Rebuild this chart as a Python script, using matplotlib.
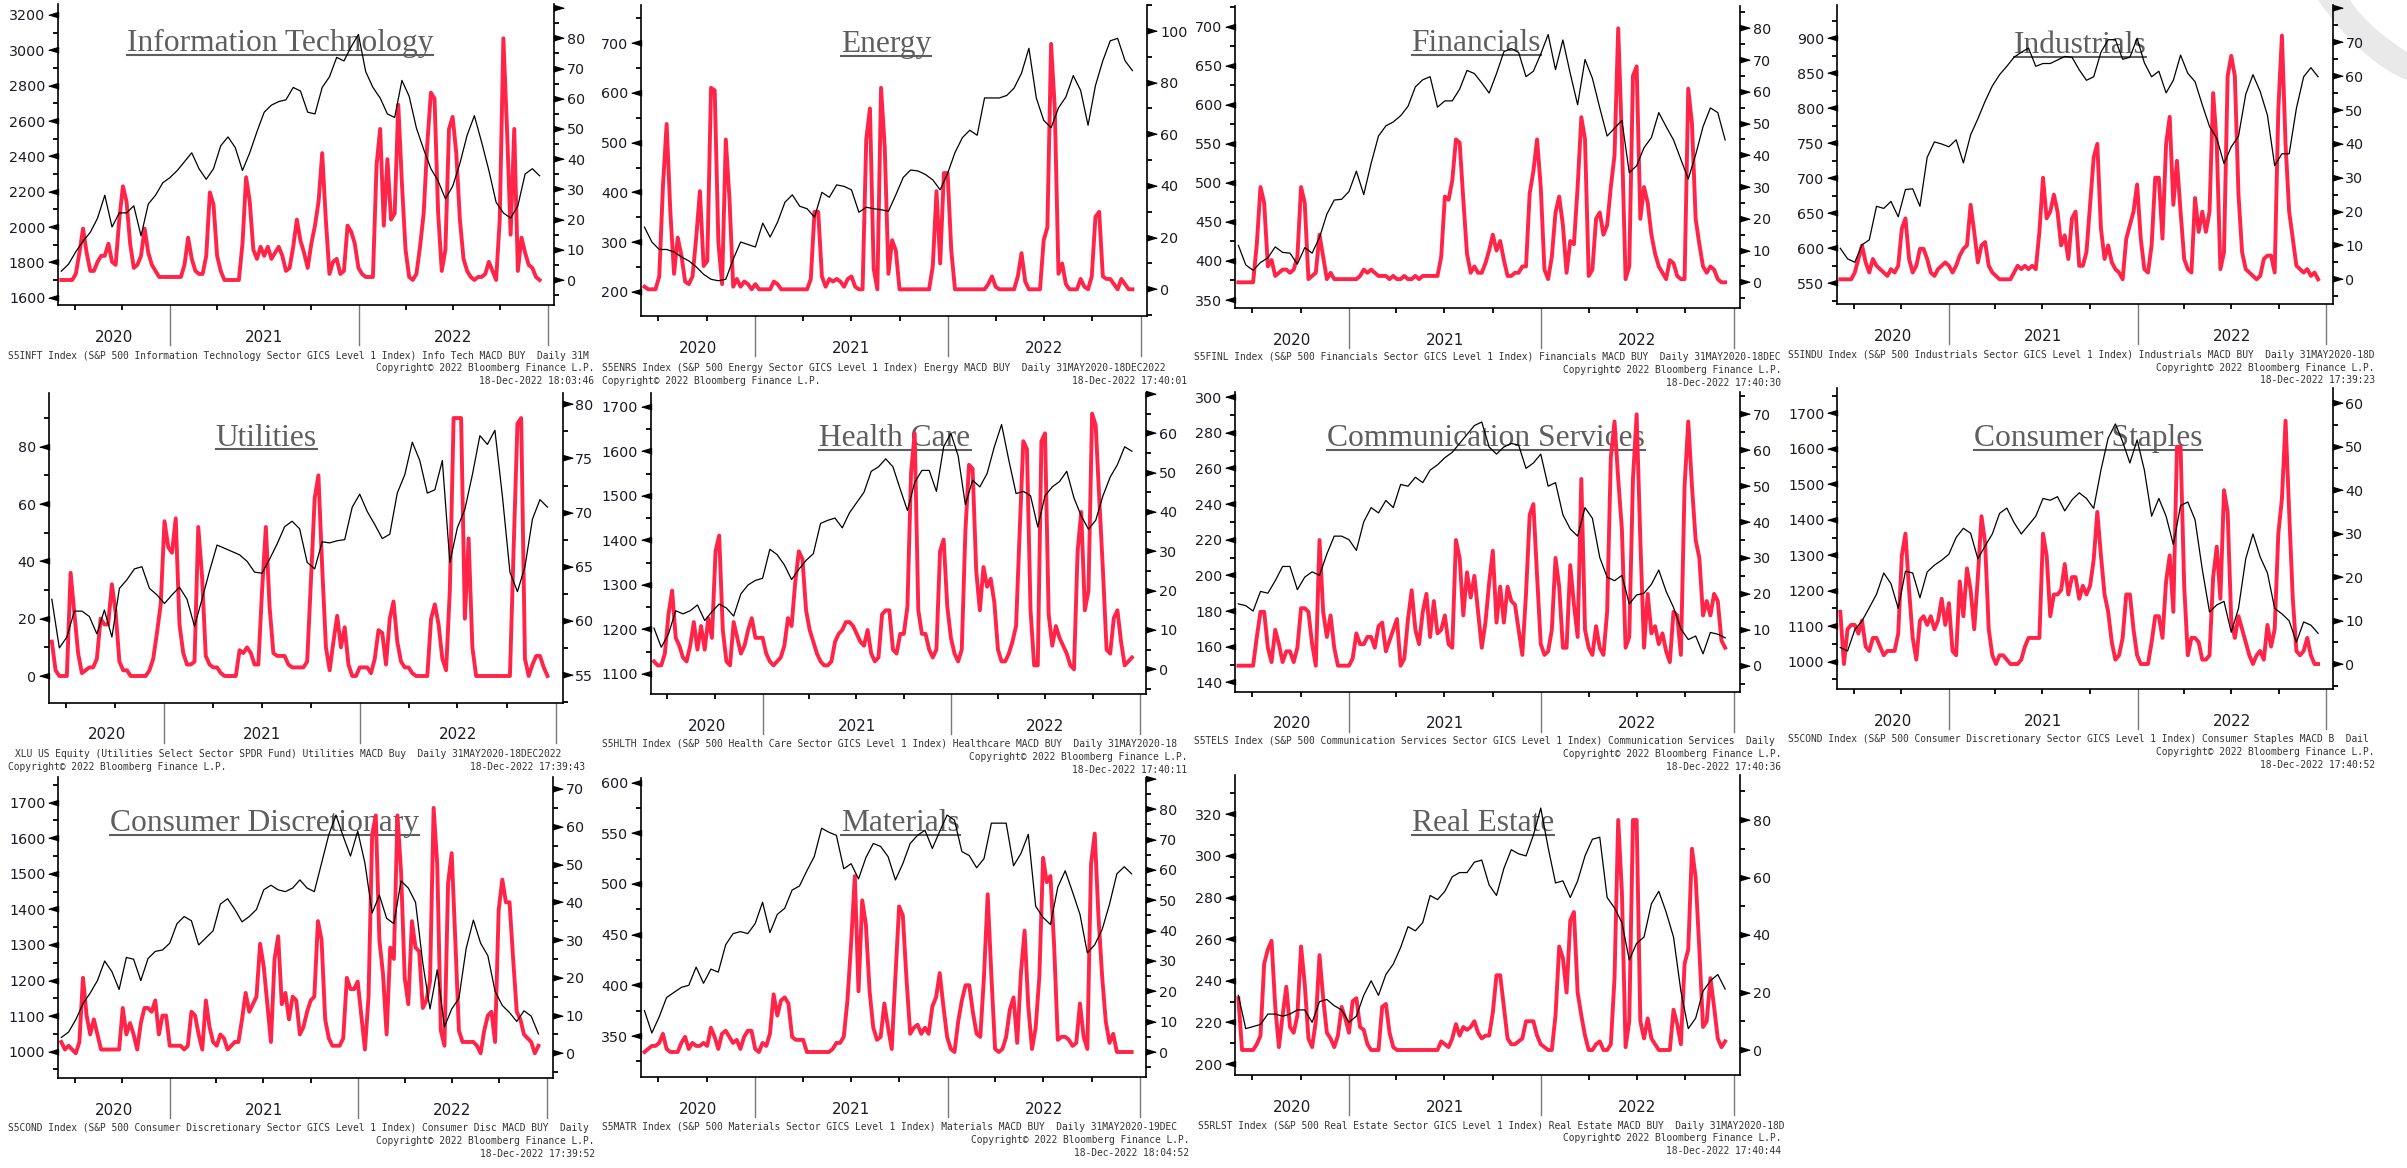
#!/usr/bin/env python3
# sector_macd_grid.py - S&P 500 sector panels: index level (black) vs MACD buy share (red)

import matplotlib
matplotlib.use("Agg")
import matplotlib.pyplot as plt
import matplotlib.dates as mdates
from matplotlib.lines import Line2D
from matplotlib.patches import PathPatch
from matplotlib.path import Path
from matplotlib.ticker import MultipleLocator, FuncFormatter
import numpy as np
import pandas as pd

W, H, DPI = 2407, 1168, 100
RED = "#ff2448"
INK = "#1b1b24"
NOTE_FONT = dict(family="DejaVu Sans Mono", fontsize=6.93, color="#333333")
FIRST, LAST = "2020-06-05", "2022-12-16"   # price: every 2 weeks, macd: weekly

# --- index levels (biweekly) and MACD buy readings (weekly) ---
it_price = [1750, 1790, 1860, 1920, 1970, 2050, 2180, 2000, 2080, 2080, 2120, 1950, 2130, 2180, 2250,
            2280, 2320, 2370, 2420, 2330, 2270, 2330, 2460, 2510, 2450, 2320, 2420, 2540, 2650, 2690,
            2710, 2720, 2790, 2770, 2650, 2640, 2790, 2850, 2960, 2940, 3020, 3090, 2880, 2790, 2730,
            2640, 2620, 2830, 2740, 2560, 2440, 2330, 2260, 2160, 2230, 2360, 2520, 2630, 2480, 2320,
            2140, 2080, 2050, 2120, 2300, 2330, 2290]
it_macd = [0, 0, 0, 0, 2, 9, 17, 9, 3, 3, 6, 8, 8, 12, 6, 5, 20, 31, 26, 12,
           4, 5, 8, 17, 9, 5, 3, 1, 1, 1, 1, 1, 1, 1, 5, 14, 7, 3, 2, 2,
           8, 29, 25, 8, 3, 0, 0, 0, 0, 0, 12, 34, 26, 10, 7, 11, 8, 11, 7, 9,
           11, 8, 3, 4, 11, 20, 13, 9, 4, 12, 18, 26, 42, 20, 2, 6, 7, 2, 3, 18,
           16, 12, 4, 2, 1, 1, 1, 38, 50, 18, 40, 20, 22, 58, 32, 10, 1, 0, 2, 11,
           22, 45, 62, 60, 22, 3, 10, 50, 54, 42, 20, 7, 3, 1, 0, 1, 1, 2, 6, 3,
           0, 20, 80, 50, 15, 50, 3, 14, 9, 5, 4, 1, 0]

energy_price = [330, 300, 285, 285, 280, 270, 262, 250, 235, 225, 222, 225, 265, 300, 295,
                290, 338, 310, 340, 380, 395, 372, 367, 350, 400, 390, 415, 412, 405, 360,
                370, 367, 365, 362, 395, 430, 445, 443, 436, 425, 405, 438, 480, 510, 525,
                515, 590, 590, 590, 595, 610, 640, 690, 590, 545, 530, 570, 592, 635, 605,
                535, 615, 665, 705, 710, 665, 645]
energy_macd = [1, 0, 0, 0, 5, 40, 64, 30, 6, 20, 13, 3, 2, 5, 20, 38, 9, 11, 78, 77,
               18, 2, 58, 35, 1, 4, 1, 3, 2, 0, 2, 0, 0, 0, 0, 3, 2, 0, 0, 0,
               0, 0, 0, 0, 0, 4, 30, 30, 5, 1, 4, 3, 4, 3, 1, 4, 5, 1, 0, 0,
               58, 70, 8, 0, 78, 55, 6, 19, 15, 0, 0, 0, 0, 0, 0, 0, 0, 0, 9, 38,
               10, 45, 45, 15, 0, 0, 0, 0, 0, 0, 0, 0, 0, 2, 5, 1, 0, 0, 0, 0,
               0, 5, 14, 3, 0, 0, 0, 0, 19, 24, 95, 70, 6, 10, 2, 0, 0, 0, 4, 1,
               0, 5, 28, 30, 5, 4, 4, 2, 0, 4, 2, 0, 0]

fin_price = [420, 395, 388, 398, 404, 418, 411, 410, 396, 417, 410, 430, 460, 478, 479,
             489, 515, 485, 525, 560, 573, 578, 586, 598, 623, 632, 636, 597, 605, 605,
             620, 644, 640, 628, 615, 640, 668, 672, 667, 636, 643, 665, 690, 645, 683,
             640, 600, 658, 634, 596, 560, 570, 580, 513, 522, 545, 558, 590, 572, 555,
             530, 505, 536, 572, 596, 590, 555]
fin_macd = [0, 0, 0, 0, 0, 12, 30, 25, 5, 7, 2, 3, 4, 4, 3, 4, 8, 30, 25, 1,
            2, 3, 15, 8, 1, 3, 1, 1, 1, 1, 1, 1, 1, 2, 4, 3, 4, 3, 2, 2,
            2, 1, 2, 1, 1, 2, 1, 1, 2, 1, 2, 2, 2, 2, 2, 8, 27, 26, 32, 45,
            44, 26, 9, 3, 5, 3, 3, 6, 10, 15, 10, 13, 7, 2, 2, 3, 3, 5, 5, 28,
            35, 45, 30, 4, 1, 8, 22, 27, 18, 3, 13, 12, 30, 52, 45, 2, 4, 20, 22, 15,
            18, 30, 40, 80, 45, 1, 5, 65, 68, 20, 30, 25, 15, 9, 5, 3, 1, 7, 6, 2,
            1, 1, 61, 50, 20, 12, 5, 3, 5, 4, 1, 0, 0]

ind_price = [600, 585, 580, 605, 612, 660, 657, 667, 645, 684, 685, 660, 730, 752, 749,
             745, 755, 722, 762, 785, 810, 832, 848, 860, 873, 880, 886, 860, 864, 864,
             869, 874, 873, 855, 840, 845, 880, 898, 898, 870, 873, 900, 865, 845, 853,
             822, 840, 876, 850, 838, 805, 774, 757, 721, 745, 760, 820, 848, 824, 790,
             718, 735, 735, 800, 845, 858, 845]
ind_macd = [0, 0, 0, 0, 2, 6, 10, 5, 2, 6, 4, 3, 2, 1, 3, 2, 4, 15, 18, 6,
            2, 4, 9, 9, 6, 2, 1, 3, 4, 5, 4, 2, 4, 7, 9, 10, 22, 14, 5, 10,
            11, 4, 2, 1, 0, 0, 0, 0, 2, 4, 3, 4, 3, 4, 3, 14, 30, 18, 20, 25,
            20, 10, 13, 6, 18, 20, 4, 4, 8, 22, 36, 40, 15, 6, 10, 5, 3, 2, 0, 12,
            16, 20, 28, 12, 3, 2, 10, 30, 30, 12, 40, 48, 22, 35, 20, 6, 3, 2, 24, 14,
            20, 14, 20, 55, 40, 3, 8, 60, 66, 60, 25, 8, 3, 2, 1, 0, 1, 6, 7, 7,
            2, 50, 72, 40, 20, 12, 4, 3, 2, 3, 1, 2, 0]

util_price = [62, 57.5, 58.5, 60.9, 60.9, 60.4, 58.8, 61, 58.5, 63, 63.8, 64.8, 65, 63, 62.4,
              61.6, 62.4, 63.1, 62, 59.5, 62, 64.6, 67, 66.7, 66.4, 66.1, 65.5, 64.5, 64.4, 65.7,
              67.1, 68.7, 69.2, 68.5, 65.4, 64.8, 67.3, 67.2, 67.4, 67.5, 70.5, 71.7, 70.1, 68.9, 67.6,
              68, 71.8, 73.5, 76.5, 74.8, 71.8, 72.1, 74.8, 65.4, 68.6, 70.3, 73.5, 77.1, 76.3, 77.6,
              71.5, 64.5, 62.7, 65, 69.4, 71.2, 70.5]
util_macd = [12, 2, 0, 0, 0, 36, 22, 8, 1, 2, 3, 3, 6, 20, 18, 18, 32, 22, 5, 2,
             2, 0, 0, 0, 0, 0, 2, 6, 15, 25, 54, 45, 43, 55, 18, 8, 4, 4, 5, 52,
             35, 7, 4, 3, 3, 1, 0, 0, 0, 0, 9, 8, 10, 8, 4, 4, 30, 52, 24, 8,
             7, 7, 7, 4, 3, 3, 3, 3, 5, 33, 62, 70, 38, 10, 2, 12, 21, 10, 17, 4,
             0, 0, 3, 3, 3, 1, 6, 16, 15, 4, 20, 26, 12, 5, 3, 3, 1, 0, 0, 0,
             0, 20, 25, 18, 6, 2, 30, 90, 90, 90, 20, 48, 10, 0, 0, 0, 0, 0, 0, 0,
             0, 0, 0, 45, 88, 90, 6, 0, 4, 7, 7, 3, 0]

hc_price = [1203, 1160, 1190, 1242, 1235, 1242, 1255, 1220, 1240, 1257, 1248, 1230, 1280, 1300, 1310,
            1315, 1380, 1368, 1345, 1312, 1335, 1355, 1370, 1438, 1445, 1450, 1428, 1462, 1485, 1508,
            1555, 1565, 1583, 1565, 1515, 1467, 1530, 1557, 1557, 1510, 1610, 1640, 1590, 1480, 1535,
            1520, 1550, 1610, 1660, 1580, 1505, 1510, 1500, 1430, 1500, 1520, 1532, 1555, 1495, 1455,
            1425, 1445, 1500, 1542, 1570, 1610, 1600]
hc_macd = [2, 1, 1, 4, 14, 20, 8, 6, 3, 2, 6, 12, 5, 11, 5, 13, 8, 30, 34, 10,
           2, 1, 12, 8, 4, 6, 10, 13, 8, 8, 8, 4, 2, 1, 2, 3, 6, 13, 11, 22,
           30, 28, 15, 10, 7, 4, 2, 1, 1, 2, 7, 9, 10, 12, 12, 11, 9, 7, 6, 10,
           4, 2, 3, 14, 15, 15, 5, 4, 9, 9, 16, 50, 60, 15, 9, 9, 5, 3, 5, 30,
           33, 16, 8, 4, 2, 5, 35, 52, 51, 25, 15, 26, 21, 23, 17, 5, 2, 2, 4, 7,
           11, 35, 58, 56, 15, 1, 1, 58, 60, 14, 6, 11, 8, 6, 4, 1, 0, 30, 40, 15,
           20, 65, 62, 43, 25, 5, 4, 13, 15, 7, 1, 2, 3]

comm_price = [184, 183, 180, 191, 190, 197, 205, 205, 192, 199, 202, 200, 212, 222, 222,
              220, 214, 230, 238, 235, 242, 238, 251, 250, 255, 252, 259, 262, 266, 269,
              274, 279, 284, 286, 272, 268, 272, 274, 273, 260, 263, 268, 250, 252, 234,
              226, 222, 238, 232, 210, 199, 197, 200, 184, 189, 190, 195, 203, 191, 182,
              170, 164, 166, 156, 168, 167, 165]
comm_macd = [0, 0, 0, 0, 0, 8, 15, 15, 5, 1, 10, 6, 1, 4, 4, 1, 5, 16, 16, 15,
             6, 0, 35, 15, 8, 14, 5, 0, 0, 0, 0, 2, 9, 6, 6, 8, 8, 5, 11, 12,
             4, 7, 10, 13, 0, 2, 13, 21, 10, 6, 15, 20, 8, 18, 9, 10, 14, 6, 5, 35,
             30, 14, 26, 19, 25, 15, 5, 12, 23, 32, 12, 22, 12, 22, 18, 17, 10, 3, 20, 42,
             45, 25, 6, 3, 4, 10, 30, 22, 5, 5, 28, 17, 8, 52, 10, 5, 3, 11, 5, 3,
             15, 58, 68, 52, 38, 5, 8, 52, 70, 35, 5, 20, 9, 11, 6, 9, 4, 1, 15, 14,
             3, 50, 68, 50, 35, 30, 14, 18, 14, 20, 18, 7, 5]

staples_price = [1040, 1030, 1090, 1115, 1152, 1190, 1250, 1220, 1150, 1255, 1250, 1180, 1253, 1272, 1286,
                 1303, 1350, 1376, 1362, 1290, 1326, 1360, 1418, 1433, 1392, 1360, 1385, 1410, 1460, 1455,
                 1465, 1425, 1456, 1476, 1460, 1432, 1540, 1630, 1670, 1620, 1560, 1625, 1540, 1410, 1460,
                 1410, 1330, 1440, 1450, 1400, 1260, 1140, 1160, 1170, 1083, 1150, 1290, 1360, 1295, 1250,
                 1150, 1135, 1115, 1055, 1112, 1103, 1080]
staples_macd = [12, 0, 8, 9, 9, 7, 10, 4, 3, 6, 6, 4, 2, 3, 3, 3, 7, 25, 30, 17,
                6, 1, 10, 11, 9, 11, 8, 10, 15, 9, 14, 3, 2, 19, 11, 22, 17, 8, 20, 34,
                28, 8, 2, 0, 2, 2, 1, 0, 0, 0, 1, 4, 6, 6, 6, 6, 30, 25, 11, 16,
                16, 17, 23, 16, 20, 20, 15, 18, 16, 18, 24, 35, 25, 16, 12, 5, 1, 2, 6, 16,
                16, 8, 2, 0, 0, 0, 5, 11, 11, 6, 19, 25, 12, 50, 50, 18, 2, 6, 6, 5,
                1, 1, 2, 20, 27, 15, 40, 35, 10, 6, 11, 8, 5, 2, 0, 2, 3, 1, 9, 4,
                8, 30, 38, 56, 35, 15, 3, 2, 3, 6, 2, 0, 0]

cd_price = [1040, 1055, 1090, 1135, 1165, 1200, 1255, 1225, 1175, 1265, 1260, 1200, 1262, 1282, 1286,
            1305, 1360, 1380, 1368, 1300, 1320, 1340, 1415, 1430, 1400, 1365, 1380, 1400, 1455, 1468,
            1455, 1450, 1460, 1483, 1460, 1450, 1530, 1610, 1665, 1605, 1550, 1620, 1530, 1390, 1440,
            1375, 1360, 1480, 1460, 1420, 1250, 1120, 1230, 1070, 1120, 1150, 1290, 1370, 1305, 1270,
            1170, 1130, 1110, 1085, 1115, 1100, 1050]
cd_macd = [3, 1, 2, 1, 0, 3, 20, 10, 5, 9, 5, 1, 1, 1, 1, 1, 1, 12, 5, 8,
           5, 1, 8, 12, 12, 11, 14, 5, 10, 10, 2, 2, 2, 2, 1, 2, 11, 10, 5, 1,
           14, 7, 3, 2, 5, 4, 1, 2, 3, 3, 9, 16, 11, 13, 15, 29, 23, 13, 3, 25,
           31, 13, 16, 9, 15, 14, 5, 7, 11, 14, 15, 35, 30, 9, 4, 2, 2, 2, 4, 20,
           17, 17, 19, 10, 1, 15, 58, 63, 30, 21, 5, 28, 25, 63, 48, 20, 13, 35, 28, 27,
           12, 14, 19, 65, 50, 6, 2, 45, 53, 30, 6, 3, 3, 3, 3, 2, 0, 6, 10, 11,
           3, 38, 46, 40, 40, 25, 11, 9, 5, 4, 3, 0, 2]

mat_price = [375, 353, 369, 388, 393, 398, 400, 418, 402, 416, 413, 440, 451, 453, 451,
             461, 482, 452, 470, 476, 494, 498, 513, 527, 555, 551, 548, 515, 520, 505,
             526, 540, 537, 527, 504, 520, 540, 548, 553, 535, 552, 568, 563, 532, 528,
             516, 525, 560, 560, 560, 518, 530, 549, 478, 467, 460, 497, 513, 492, 470,
             432, 440, 455, 480, 510, 517, 510]
mat_macd = [0, 1, 2, 2, 3, 6, 1, 0, 0, 0, 3, 5, 1, 3, 2, 2, 3, 2, 8, 5,
            1, 6, 7, 5, 3, 4, 1, 5, 7, 7, 1, 0, 3, 2, 6, 19, 12, 17, 18, 16,
            5, 4, 4, 4, 0, 0, 0, 0, 0, 0, 0, 1, 3, 3, 5, 17, 36, 58, 20, 50,
            42, 20, 8, 4, 5, 16, 8, 1, 25, 48, 45, 24, 6, 8, 9, 6, 8, 6, 15, 18,
            26, 15, 5, 1, 0, 10, 17, 22, 22, 13, 6, 5, 25, 52, 25, 1, 0, 1, 5, 14,
            18, 3, 26, 40, 15, 1, 8, 25, 64, 56, 58, 35, 4, 5, 5, 4, 2, 3, 16, 5,
            1, 62, 72, 45, 25, 10, 3, 6, 0, 0, 0, 0, 0]

re_price = [233, 217, 218, 219, 224, 224, 223, 224, 226, 226, 220, 230, 231, 228, 226,
            220, 223, 233, 240, 233, 243, 248, 256, 266, 264, 268, 281, 279, 283, 290,
            292, 292, 297, 298, 286, 281, 294, 303, 301, 300, 310, 323, 304, 287, 288,
            280, 288, 300, 308, 309, 280, 275, 268, 250, 258, 261, 277, 283, 273, 261,
            235, 217, 222, 235, 240, 243, 236]
re_macd = [18, 0, 0, 0, 0, 2, 5, 30, 35, 38, 15, 1, 12, 22, 8, 6, 12, 36, 23, 4,
           1, 10, 33, 18, 6, 4, 1, 5, 15, 11, 6, 17, 18, 8, 7, 2, 0, 0, 0, 15,
           16, 6, 1, 0, 0, 0, 0, 0, 0, 0, 0, 0, 0, 0, 0, 3, 2, 1, 4, 9,
           5, 8, 7, 8, 10, 6, 4, 5, 5, 13, 26, 26, 15, 4, 2, 2, 3, 4, 10, 10,
           10, 5, 2, 1, 0, 0, 12, 36, 32, 20, 45, 48, 20, 12, 5, 0, 0, 2, 3, 0,
           0, 2, 25, 80, 55, 1, 10, 80, 80, 10, 4, 11, 4, 2, 0, 0, 0, 0, 14, 9,
           2, 30, 35, 70, 60, 35, 8, 10, 25, 15, 4, 1, 3]

years = ["2020", "2021", "2022"]
COPY = "Copyright\u00a9 2022 Bloomberg Finance L.P."

# --- panel layout, in pixels of the 2407x1168 canvas ---
# rect = (left, top, right, bottom) of plot frame; lcal/rcal = two (value, y) pairs per axis
# footnote first lines are cut where the next chart image starts, as in the screenshot
PANELS = [
    dict(title="Information Technology", price=it_price, macd=it_macd,
         note="S5INFT Index (S&P 500 Information Technology Sector GICS Level 1 Index) Info Tech MACD BUY  Daily 31M",
         stamp="18-Dec-2022 18:03:46", rect=(58.2, 4, 554.1, 305),
         lcal=((3200, 15.0), (1600, 297.7)), rcal=((80, 38.3), (0, 280.0)),
         lstep=(200, 100), rstep=(10, 5), rlab_max=80, title_at=(280.3, 55),
         note_at=(7.7, 355.7), copy_at=(594.3, 368.3, "right"), stamp_at=(594.3, 380.7)),
    dict(title="Energy", price=energy_price, macd=energy_macd,
         note="S5ENRS Index (S&P 500 Energy Sector GICS Level 1 Index) Energy MACD BUY  Daily 31MAY2020-18DEC2022",
         stamp="18-Dec-2022 17:40:01", rect=(641.3, 5, 1147.2, 316),
         lcal=((700, 43.3), (200, 291.7)), rcal=((100, 31.0), (0, 289.3)),
         lstep=(100, 50), rstep=(20, 10), rlab_max=None, title_at=(886.0, 56),
         note_at=(601.9, 367.7), copy_at=(601.9, 380.7, "left"), stamp_at=(1187.4, 380.7)),
    dict(title="Financials", price=fin_price, macd=fin_macd,
         note="S5FINL Index (S&P 500 Financials Sector GICS Level 1 Index) Financials MACD BUY  Daily 31MAY2020-18DEC",
         stamp="18-Dec-2022 17:40:30", rect=(1235.2, 6, 1739.9, 308),
         lcal=((700, 26.7), (350, 300.0)), rcal=((80, 28.3), (0, 282.3)),
         lstep=(50, 25), rstep=(10, 5), rlab_max=None, title_at=(1476.3, 55),
         note_at=(1193.8, 357.3), copy_at=(1781.2, 370.0, "right"), stamp_at=(1781.2, 383.3)),
    dict(title="Industrials", price=ind_price, macd=ind_macd,
         note="S5INDU Index (S&P 500 Industrials Sector GICS Level 1 Index) Industrials MACD BUY  Daily 31MAY2020-18D",
         stamp="18-Dec-2022 17:39:23", rect=(1837.2, 5, 2332.6, 304.3),
         lcal=((900, 38.3), (550, 283.3)), rcal=((70, 42.3), (0, 279.3)),
         lstep=(50, 25), rstep=(10, 5), rlab_max=70, title_at=(2080.1, 56.7),
         note_at=(1788.0, 355.0), copy_at=(2375.0, 367.7, "right"), stamp_at=(2375.0, 380.0)),
    dict(title="Utilities", price=util_price, macd=util_macd, price_side="right",
         note="XLU US Equity (Utilities Select Sector SPDR Fund) Utilities MACD Buy  Daily 31MAY2020-18DEC2022",
         stamp="18-Dec-2022 17:39:43", rect=(48.6, 392.7, 562.5, 702.7),
         lcal=((80, 446.7), (0, 676.0)), rcal=((80, 404.3), (55, 675.0)),
         lstep=(20, 10), rstep=(5, 2.5), rlab_max=None, title_at=(266.3, 449.3),
         note_at=(15.3, 754.0), copy_at=(7.7, 767.0, "left"), stamp_at=(585.5, 767.0)),
    dict(title="Health Care", price=hc_price, macd=hc_macd,
         note="S5HLTH Index (S&P 500 Health Care Sector GICS Level 1 Index) Healthcare MACD BUY  Daily 31MAY2020-18",
         stamp="18-Dec-2022 17:40:11", rect=(650.9, 393.3, 1146.4, 694.3),
         lcal=((1700, 406.7), (1100, 674.0)), rcal=((60, 433.3), (0, 669.3)),
         lstep=(100, 50), rstep=(10, 5), rlab_max=60, title_at=(895.0, 450),
         note_at=(601.9, 744.0), copy_at=(1187.4, 757.3, "right"), stamp_at=(1187.4, 770.0)),
    dict(title="Communication Services", price=comm_price, macd=comm_macd,
         note="S5TELS Index (S&P 500 Communication Services Sector GICS Level 1 Index) Communication Services  Daily",
         stamp="18-Dec-2022 17:40:36", rect=(1235.2, 391.7, 1739.9, 691.7),
         lcal=((280, 432.7), (160, 646.7)), rcal=((70, 414.3), (0, 665.7)),
         lstep=(20, 10), rstep=(10, 5), rlab_max=None, title_at=(1486.4, 450),
         note_at=(1193.8, 741.0), copy_at=(1781.2, 754.3, "right"), stamp_at=(1781.2, 766.7)),
    dict(title="Consumer Staples", price=staples_price, macd=staples_macd,
         note="S5COND Index (S&P 500 Consumer Discretionary Sector GICS Level 1 Index) Consumer Staples MACD B  Dail",
         stamp="18-Dec-2022 17:40:52", rect=(1837.2, 388.3, 2332.6, 689.3),
         lcal=((1700, 413.3), (1000, 661.7)), rcal=((60, 403.3), (0, 664.0)),
         lstep=(100, 50), rstep=(10, 5), rlab_max=None, title_at=(2087.9, 450),
         note_at=(1788.0, 739.3), copy_at=(2375.0, 752.3, "right"), stamp_at=(2375.0, 765.0)),
    dict(title="Consumer Discretionary", price=cd_price, macd=cd_macd,
         note="S5COND Index (S&P 500 Consumer Discretionary Sector GICS Level 1 Index) Consumer Disc MACD BUY  Daily",
         stamp="18-Dec-2022 17:39:52", rect=(58.2, 776.7, 552.9, 1078.3),
         lcal=((1700, 802.7), (1000, 1051.7)), rcal=((70, 789.0), (0, 1053.3)),
         lstep=(100, 50), rstep=(10, 5), rlab_max=None, title_at=(264.4, 835),
         note_at=(7.7, 1128.3), copy_at=(595.0, 1141.0, "right"), stamp_at=(595.0, 1154.3)),
    dict(title="Materials", price=mat_price, macd=mat_macd,
         note="S5MATR Index (S&P 500 Materials Sector GICS Level 1 Index) Materials MACD BUY  Daily 31MAY2020-19DEC",
         stamp="18-Dec-2022 18:04:52", rect=(641.3, 778.3, 1146.4, 1077.3),
         lcal=((550, 833.3), (350, 1036.0)), rcal=((80, 809.3), (0, 1052.0)),
         lstep=(50, 25), rstep=(10, 5), rlab_max=80, title_at=(900.8, 835),
         note_at=(601.9, 1127.3), copy_at=(1189.3, 1140.0, "right"), stamp_at=(1189.3, 1153.3)),
    dict(title="Real Estate", price=re_price, macd=re_macd,
         note="S5RLST Index (S&P 500 Real Estate Sector GICS Level 1 Index) Real Estate MACD BUY  Daily 31MAY2020-18D",
         stamp="18-Dec-2022 17:40:44", rect=(1235.2, 775, 1739.9, 1075),
         lcal=((320, 814.3), (200, 1064.0)), rcal=((80, 820.0), (0, 1050.0)),
         lstep=(20, 10), rstep=(20, 10), rlab_max=None, title_at=(1483.3, 835),
         note_at=(1197.7, 1126.0), copy_at=(1781.2, 1138.3, "right"), stamp_at=(1781.2, 1151.0)),
]

X0, X1 = mdates.date2num(pd.Timestamp("2020-05-30")), mdates.date2num(pd.Timestamp("2023-01-13"))
QUARTERS = [mdates.date2num(pd.Timestamp(d)) for d in
            ["2020-07-01", "2020-10-01", "2021-04-01", "2021-07-01", "2021-10-01",
             "2022-04-01", "2022-07-01", "2022-10-01"]]
YEAR_EDGES = [mdates.date2num(pd.Timestamp(d)) for d in ["2021-01-01", "2022-01-01", "2023-01-01"]]
YEAR_MIDS = [(X0 + YEAR_EDGES[0]) / 2, mdates.date2num(pd.Timestamp("2021-07-02")),
             mdates.date2num(pd.Timestamp("2022-07-02"))]

fig = plt.figure(figsize=(W / DPI, H / DPI), dpi=DPI)
fig.patch.set_facecolor("white")


def lim_from(cal, top, bottom):
    (va, ya), (vb, yb) = cal
    k = (yb - ya) / (va - vb)  # pixels per unit
    return vb - (bottom - yb) / k, va + (ya - top) / k


def style_y(a, side, lim, step, lab_max=None):
    major, minor = step
    a.yaxis.set_major_locator(MultipleLocator(major))
    a.yaxis.set_minor_locator(MultipleLocator(minor))

    def fmt(v, pos):
        if lab_max is not None and v > lab_max + 1e-6:
            return ""
        return f"{int(round(v))}"

    a.yaxis.set_major_formatter(FuncFormatter(fmt))
    a.tick_params(axis="y", which="major", length=7.2, color="none", pad=2.0,
                  labelsize=10.3, labelcolor=INK)
    a.tick_params(axis="y", which="minor", length=3.6, width=1.3, color="black")
    ticks = np.arange(np.ceil(lim[0] / major) * major, lim[1] + 1e-9, major)
    xs = 0 if side == "left" else 1
    tri = [(-1, 0), (0, 0.3), (0, -0.3)] if side == "left" else [(1, 0), (0, 0.3), (0, -0.3)]
    a.plot([xs] * len(ticks), ticks, ls="none", marker=tri, ms=14, color="black",
           transform=a.get_yaxis_transform(), clip_on=False)
    a.set_ylim(*lim)


titles = []
for p in PANELS:
    l, t, r, b = p["rect"]
    h = b - t
    ax = fig.add_axes([l / W, 1 - b / H, (r - l) / W, h / H])
    ax2 = ax.twinx()
    llim = lim_from(p["lcal"], t, b)
    rlim = lim_from(p["rcal"], t, b)

    price_side = p.get("price_side", "left")
    pax, max_ = (ax, ax2) if price_side == "left" else (ax2, ax)

    # red MACD underneath, black index on top
    max_.plot(pd.date_range(FIRST, LAST, periods=len(p["macd"])), p["macd"],
              color=RED, lw=2.8, zorder=2)
    pax.plot(pd.date_range(FIRST, LAST, periods=len(p["price"])), p["price"],
             color="black", lw=0.9, zorder=3)
    pax.set_zorder(max_.get_zorder() + 1)
    pax.patch.set_visible(False)
    max_.patch.set_visible(False)

    style_y(ax, "left", llim, p["lstep"])
    style_y(ax2, "right", rlim, p["rstep"], p["rlab_max"])

    for a in (ax, ax2):
        a.spines["top"].set_visible(False)
        for s in a.spines.values():
            s.set_linewidth(1.2)
            s.set_color("black")
    ax.spines["right"].set_visible(False)
    ax2.spines["left"].set_visible(False)
    ax2.spines["bottom"].set_visible(False)

    ax.set_xlim(X0, X1)
    ax.set_xticks(QUARTERS)
    ax.tick_params(axis="x", which="major", length=3.6, width=1.3, color="black", labelbottom=False)
    ax.tick_params(axis="x", which="minor", length=0)
    for xe in YEAR_EDGES:
        ax.plot([xe, xe], [0, -40 / h], transform=ax.get_xaxis_transform(),
                color="#7a7a7a", lw=1.0, clip_on=False)
    for xm, yr in zip(YEAR_MIDS, years):
        ax.text(xm, -32 / h, yr, transform=ax.get_xaxis_transform(), ha="center", va="center",
                fontsize=10.8, color=INK)

    # sector title (behind the lines, underlined)
    tx, uy = p["title_at"]
    tt = max_.text(tx / W, 1 - (uy - 3.6) / H, p["title"], transform=fig.transFigure,
                   ha="center", va="baseline", family="Liberation Serif", fontsize=22.7,
                   color="#5e5e5e", zorder=1)
    titles.append((tt, uy, max_))

    # Bloomberg footnotes
    nx, ny = p["note_at"]
    fig.text(nx / W, 1 - ny / H, p["note"], ha="left", va="center", **NOTE_FONT)
    cx, cy, cha = p["copy_at"]
    fig.text(cx / W, 1 - cy / H, COPY, ha=cha, va="center", **NOTE_FONT)
    sx, sy = p["stamp_at"]
    fig.text(sx / W, 1 - sy / H, p["stamp"], ha="right", va="center", **NOTE_FONT)

# faint page-curl shadow in the top right corner of the screenshot
curl = Path([(2318, 0), (2345, 40), (2380, 70), (2407, 80),
             (2407, 52), (2388, 40), (2362, 20), (2350, 0), (2318, 0)],
            [Path.MOVETO, Path.CURVE4, Path.CURVE4, Path.CURVE4,
             Path.LINETO, Path.CURVE4, Path.CURVE4, Path.CURVE4, Path.CLOSEPOLY])
curl = curl.transformed(matplotlib.transforms.Affine2D().scale(1 / W, -1 / H).translate(0, 1))
fig.patches.append(PathPatch(curl, transform=fig.transFigure, facecolor="#e9e9e9",
                             edgecolor="none", zorder=-1))

# underline each title across its rendered width
fig.canvas.draw()
renderer = fig.canvas.get_renderer()
for tt, uy, host in titles:
    bb = tt.get_window_extent(renderer)
    host.add_line(Line2D([bb.x0 / W, bb.x1 / W], [1 - uy / H, 1 - uy / H],
                         transform=fig.transFigure, color="#5e5e5e", lw=1.5,
                         clip_on=False, zorder=1))

fig.savefig("out.png", dpi=DPI, facecolor="white")
